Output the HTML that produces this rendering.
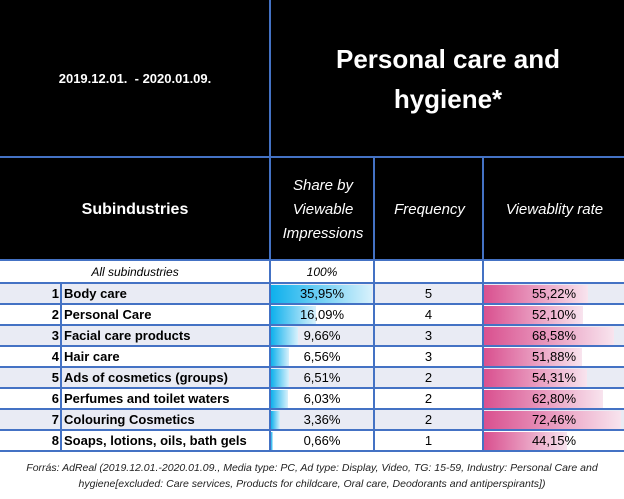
<!DOCTYPE html><html><head><meta charset="utf-8"><style>
body{margin:0;width:624px;height:499px;background:#fff;position:relative;overflow:hidden;font-family:"Liberation Sans",sans-serif}
.a{position:absolute}
.hl{position:absolute;background:#4472c4;height:2px}
.vl{position:absolute;background:#4472c4;width:2px}
.c{position:absolute;display:flex;align-items:center;justify-content:center;text-align:center}
</style></head><body>
<div class="a" style="left:0;top:0;width:624px;height:260px;background:#000"></div>
<div class="c" style="left:0;top:0;width:270px;height:157px;color:#fff;font-weight:bold;font-size:13px">2019.12.01.&nbsp; - 2020.01.09.</div>
<div class="c" style="left:272px;top:0;width:352px;height:157px;color:#fff;font-weight:bold;font-size:26px;line-height:40px">Personal care and<br>hygiene*</div>
<div class="c" style="left:0;top:159px;width:270px;height:101px;color:#fff;font-weight:bold;font-size:16px">Subindustries</div>
<div class="c" style="left:272px;top:159px;width:102px;height:101px;color:#fff;font-style:italic;font-size:15px;line-height:24px">Share by<br>Viewable<br>Impressions</div>
<div class="c" style="left:376px;top:159px;width:107px;height:101px;color:#fff;font-style:italic;font-size:15px">Frequency</div>
<div class="c" style="left:485px;top:159px;width:139px;height:101px;color:#fff;font-style:italic;font-size:15px">Viewablity rate</div>
<div id="rows"></div>
<div class="hl" style="left:0;top:156px;width:624px"></div>
<div class="hl" style="left:0;top:259px;width:624px"></div>
<div class="vl" style="left:269px;top:0;height:452px"></div>
<div class="vl" style="left:373px;top:156px;height:296px"></div>
<div class="vl" style="left:482px;top:156px;height:296px"></div>
<div class="vl" style="left:60px;top:282px;height:170px"></div>
<div class="c" style="left:0;top:458px;width:624px;height:36px;font-style:italic;font-size:10.5px;line-height:16px;color:#222">Forrás: AdReal (2019.12.01.-2020.01.09., Media type: PC, Ad type: Display, Video, TG: 15-59, Industry: Personal Care and<br>hygiene[excluded: Care services, Products for childcare, Oral care, Deodorants and antiperspirants])</div>
<script>
const categories=["Body care","Personal Care","Facial care products","Hair care","Ads of cosmetics (groups)","Perfumes and toilet waters","Colouring Cosmetics","Soaps, lotions, oils, bath gels"];
const shareValues=[35.95,16.09,9.66,6.56,6.51,6.03,3.36,0.66];
const frequencyValues=[5,4,3,3,2,2,2,1];
const viewabilityValues=[55.22,52.10,68.58,51.88,54.31,62.80,72.46,44.15];
const R=document.getElementById('rows');
function fmt(v){return v.toFixed(2).replace('.',',')+'%';}
function mk(css,txt){const d=document.createElement('div');d.style.cssText='position:absolute;'+css;if(txt!==undefined)d.textContent=txt;R.appendChild(d);return d;}
let t=mk('left:0;top:261px;width:270px;height:21px;display:flex;align-items:center;justify-content:center;font-style:italic;font-size:12px','All subindustries');


t=mk('left:271px;top:261px;width:102px;height:21px;display:flex;align-items:center;justify-content:center;font-style:italic;font-size:12px','100%');


const maxS=Math.max(...shareValues),maxV=Math.max(...viewabilityValues);
categories.forEach((c,i)=>{
 const y=283+i*21;
 const bg=mk(`left:0;top:${y}px;width:624px;height:21px;background:${i%2==0?'#e9ebf4':'#fff'}`);
 
 
 const sb=mk(`left:271px;top:${y+2}px;height:19px;width:${shareValues[i]/maxS*101}px;background:linear-gradient(90deg,#0eb0ec,#d8f1fc)`);
 
 
 const vb=mk(`left:484px;top:${y+2}px;height:19px;width:${viewabilityValues[i]/maxV*137}px;background:linear-gradient(90deg,#d9508f,#f8e4ee)`);
 
 
 const n=mk(`left:0;top:${y}px;width:59px;height:21px;line-height:22px;text-align:right;font-weight:bold;font-size:13px`,String(i+1));
 
 
 const l=mk(`left:64px;top:${y}px;width:205px;height:21px;line-height:22px;font-weight:bold;font-size:13px;white-space:nowrap`,c);
 
 
 const s=mk(`left:271px;top:${y}px;width:102px;height:21px;line-height:22px;text-align:center;font-size:13px`,fmt(shareValues[i]));
 
 
 const f=mk(`left:375px;top:${y}px;width:107px;height:21px;line-height:22px;text-align:center;font-size:13px`,String(frequencyValues[i]));
 
 
 const v=mk(`left:484px;top:${y}px;width:140px;height:21px;line-height:22px;text-align:center;font-size:13px`,fmt(viewabilityValues[i]));
 
 
});
for(let i=0;i<=8;i++){const h=mk(`left:0;top:${282+i*21}px;width:624px;height:2px;background:#4472c4`);
 
 }
</script>
</body></html>
